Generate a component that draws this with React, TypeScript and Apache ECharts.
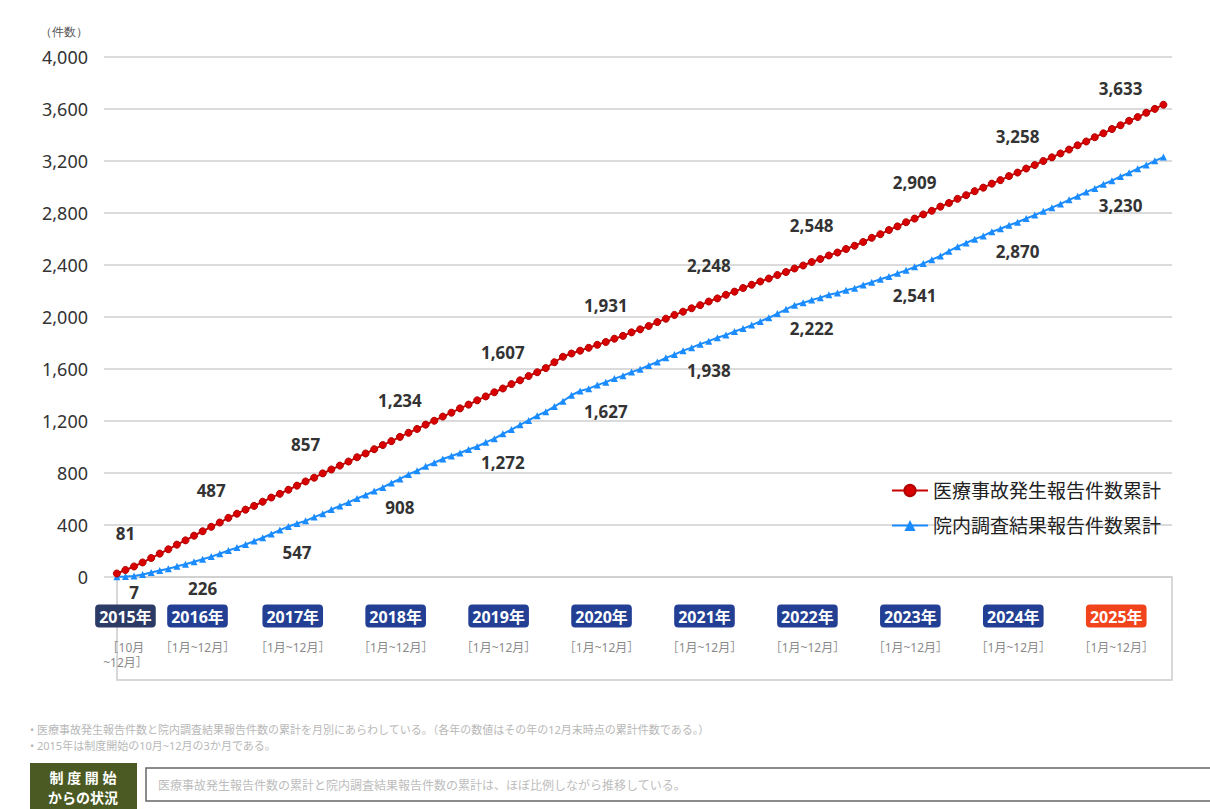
import React, { useEffect, useRef } from "react";
import * as echarts from "echarts";

const years = ["2015", "2016", "2017", "2018", "2019", "2020", "2021", "2022", "2023", "2024", "2025"];
const monthsInYear = [3, 12, 12, 12, 12, 12, 12, 12, 12, 12, 12];
const periodLabels = ["［10月\n~12月］", "［1月~12月］", "［1月~12月］", "［1月~12月］", "［1月~12月］", "［1月~12月］", "［1月~12月］", "［1月~12月］", "［1月~12月］", "［1月~12月］", "［1月~12月］"];

// monthly cumulative counts, Oct 2015 .. Dec 2025
const accidentCumulative = [
  27, 54, 81,
  112, 146, 180, 213, 249, 282, 318, 352, 386, 419, 455, 487,
  518, 547, 579, 611, 640, 671, 703, 735, 764, 797, 827, 857,
  888, 921, 950, 983, 1015, 1045, 1078, 1109, 1139, 1172, 1202, 1234,
  1264, 1297, 1326, 1359, 1389, 1421, 1450, 1484, 1513, 1546, 1575, 1607,
  1652, 1694, 1719, 1741, 1763, 1786, 1808, 1833, 1855, 1882, 1905, 1931,
  1961, 1987, 2016, 2041, 2067, 2091, 2119, 2143, 2171, 2195, 2223, 2248,
  2273, 2296, 2323, 2346, 2373, 2396, 2423, 2446, 2473, 2496, 2523, 2548,
  2577, 2609, 2637, 2669, 2697, 2729, 2757, 2789, 2817, 2849, 2877, 2909,
  2937, 2968, 2995, 3026, 3053, 3084, 3111, 3142, 3169, 3200, 3228, 3258,
  3288, 3321, 3350, 3383, 3413, 3446, 3475, 3509, 3538, 3571, 3601, 3633,
];
const investigationCumulative = [
  2, 4, 7,
  19, 34, 50, 64, 82, 98, 117, 136, 157, 179, 204, 226,
  250, 276, 302, 331, 361, 389, 411, 432, 461, 487, 519, 547,
  574, 604, 631, 661, 689, 723, 754, 789, 817, 851, 879, 908,
  931, 954, 981, 1004, 1036, 1064, 1101, 1134, 1171, 1204, 1241, 1272,
  1311, 1352, 1398, 1431, 1449, 1476, 1499, 1526, 1549, 1576, 1599, 1627,
  1654, 1686, 1711, 1741, 1764, 1791, 1814, 1841, 1861, 1889, 1911, 1938,
  1966, 1994, 2026, 2059, 2091, 2109, 2131, 2149, 2171, 2184, 2206, 2222,
  2246, 2267, 2291, 2311, 2336, 2359, 2386, 2411, 2441, 2469, 2506, 2541,
  2569, 2599, 2624, 2656, 2679, 2706, 2729, 2758, 2784, 2813, 2841, 2870,
  2901, 2929, 2961, 2989, 3021, 3049, 3081, 3109, 3141, 3169, 3201, 3230,
];
// month index (from Oct 2015) where each year's year-end total is written
const accidentLabelMonth = [1, 11, 22, 33, 45, 57, 69, 81, 93, 105, 117];
const investigationLabelMonth = [2, 10, 21, 33, 45, 57, 69, 81, 93, 105, 117];

const seriesNames = ["医療事故発生報告件数累計", "院内調査結果報告件数累計"];
const yMin = 0;
const yMax = 4000;
const yInterval = 400;

const FONT = "'Noto Sans', 'Noto Sans CJK JP', sans-serif";

export default function App() {
  const ref = useRef<HTMLDivElement>(null);

  useEffect(() => {
    if (!ref.current) return;
    const chart = echarts.init(ref.current, null, { renderer: "svg" });

    const yearStart: number[] = [];
    let acc = 0;
    monthsInYear.forEach((n) => {
      yearStart.push(acc);
      acc += n;
    });
    const yearEnd = yearStart.map((s, i) => s + monthsInYear[i] - 1);
    // label anchor: middle of the year's months; the first full year is nudged right
    // so that its label clears the short 2015 label
    const yearCenter = yearStart.map((s, i) => s + (monthsInYear[i] - 1) / 2 + (i === 1 ? 0.9 : 0));
    const total = acc;

    const fmt = (v: number) => v.toLocaleString("en-US");

    const buildData = (vals: number[], labelMonths: number[], firstDistance?: number) =>
      vals.map((v, i) => {
        const yi = labelMonths.indexOf(i);
        if (yi >= 0) {
          const label: any = { show: true, formatter: fmt(vals[yearEnd[yi]]) };
          if (yi === 0 && firstDistance !== undefined) label.distance = firstDistance;
          return { value: [i, v], label };
        }
        return [i, v];
      });

    const boxStyle = (bg: string) => ({
      backgroundColor: bg,
      borderRadius: 4,
      padding: [4, 4, 3, 4],
      color: "#fff",
      fontWeight: "bold",
      fontSize: 16,
      lineHeight: 20,
      fontFamily: FONT,
    });

    const option: any = {
      animation: false,
      textStyle: { fontFamily: FONT },
      grid: { left: 104, right: 38, top: 57, bottom: 232, containLabel: false },
      xAxis: {
        type: "value",
        min: -1.5,
        max: total,
        axisLine: { show: false },
        axisTick: { show: false },
        splitLine: { show: false },
        axisLabel: {
          customValues: yearCenter,
          margin: 29,
          hideOverlap: false,
          showMinLabel: true,
          showMaxLabel: true,
          formatter: (val: number) => {
            const i = yearCenter.findIndex((c) => Math.abs(c - val) < 0.01);
            if (i < 0) return "";
            const st = i === 0 ? "first" : i === years.length - 1 ? "current" : "year";
            const subs = periodLabels[i].split("\n");
            const subText = subs.map((s) => `{sub|${s}}`).join("\n");
            return `{${st}|${years[i]}年}\n{gap|}\n${subText}`;
          },
          rich: {
            year: boxStyle("#233f94"),
            first: boxStyle("#2c3a66"),
            current: boxStyle("#f2441c"),
            gap: { fontSize: 6, lineHeight: 14 },
            sub: { color: "#8a8a8a", fontSize: 12, lineHeight: 15, fontFamily: FONT },
          },
        },
      },
      yAxis: {
        type: "value",
        min: yMin,
        max: yMax,
        interval: yInterval,
        axisLine: { show: false },
        axisTick: { show: false },
        axisLabel: {
          fontSize: 18,
          color: "#333",
          margin: 16,
          fontFamily: FONT,
          formatter: (v: number) => fmt(v),
        },
        splitLine: { lineStyle: { color: "#cfcfcf", width: 1.5 } },
      },
      legend: {
        orient: "vertical",
        left: 886,
        top: 476,
        itemWidth: 36,
        itemHeight: 14,
        itemGap: 16,
        textStyle: { fontSize: 19, color: "#222", fontFamily: FONT },
        data: seriesNames,
      },
      series: [
        {
          name: seriesNames[0],
          type: "line",
          data: buildData(accidentCumulative, accidentLabelMonth),
          symbol: "circle",
          symbolSize: 7,
          lineStyle: { color: "#c80000", width: 2 },
          itemStyle: { color: "#d80000", borderColor: "#b00000", borderWidth: 1 },
          label: {
            show: false,
            position: "top",
            distance: 24,
            fontSize: 17,
            fontWeight: "bold",
            color: "#333",
            fontFamily: FONT,
          },
          z: 3,
        },
        {
          name: seriesNames[1],
          type: "line",
          data: buildData(investigationCumulative, investigationLabelMonth, 4),
          symbol: "triangle",
          symbolSize: 7,
          lineStyle: { color: "#1a8cff", width: 2 },
          itemStyle: { color: "#1a8cff" },
          label: {
            show: false,
            position: "bottom",
            distance: 17,
            fontSize: 17,
            fontWeight: "bold",
            color: "#333",
            fontFamily: FONT,
          },
          z: 2,
        },
      ],
      graphic: [
        {
          type: "text",
          left: 40,
          top: 26,
          style: { text: "（件数）", fontSize: 12, fill: "#555", font: `12px ${FONT}` },
        },
        {
          type: "rect",
          shape: { x: 117, y: 577, width: 1055, height: 103 },
          style: { fill: "none", stroke: "#cccccc", lineWidth: 1.5 },
          z: -1,
        },
        {
          type: "text",
          x: 30,
          y: 724,
          style: {
            text: "• 医療事故発生報告件数と院内調査結果報告件数の累計を月別にあらわしている。（各年の数値はその年の12月末時点の累計件数である。）",
            font: `11px ${FONT}`,
            fill: "#b8b8b8",
          },
        },
        {
          type: "text",
          x: 30,
          y: 740,
          style: {
            text: "• 2015年は制度開始の10月~12月の3か月である。",
            font: `11px ${FONT}`,
            fill: "#b8b8b8",
          },
        },
        {
          type: "rect",
          shape: { x: 30, y: 763, width: 107, height: 46 },
          style: { fill: "#4b5a22" },
        },
        {
          type: "text",
          x: 83,
          y: 777,
          style: {
            text: "制 度 開 始",
            font: `bold 14px ${FONT}`,
            fill: "#fff",
            align: "center",
            verticalAlign: "middle",
          },
        },
        {
          type: "text",
          x: 83,
          y: 797,
          style: {
            text: "からの状況",
            font: `bold 14px ${FONT}`,
            fill: "#fff",
            align: "center",
            verticalAlign: "middle",
          },
        },
        {
          type: "rect",
          shape: { x: 146, y: 768, width: 1070, height: 33 },
          style: { fill: "#fff", stroke: "#666", lineWidth: 1.5 },
        },
        {
          type: "text",
          x: 158,
          y: 785,
          style: {
            text: "医療事故発生報告件数の累計と院内調査結果報告件数の累計は、ほぼ比例しながら推移している。",
            font: `12px ${FONT}`,
            fill: "#bdbdbd",
            verticalAlign: "middle",
          },
        },
      ],
    };

    chart.setOption(option);
    return () => chart.dispose();
  }, []);

  return (
    <div
      ref={ref}
      style={{ position: "absolute", left: 0, top: 0, width: 1210, height: 809, background: "#fff" }}
    />
  );
}
